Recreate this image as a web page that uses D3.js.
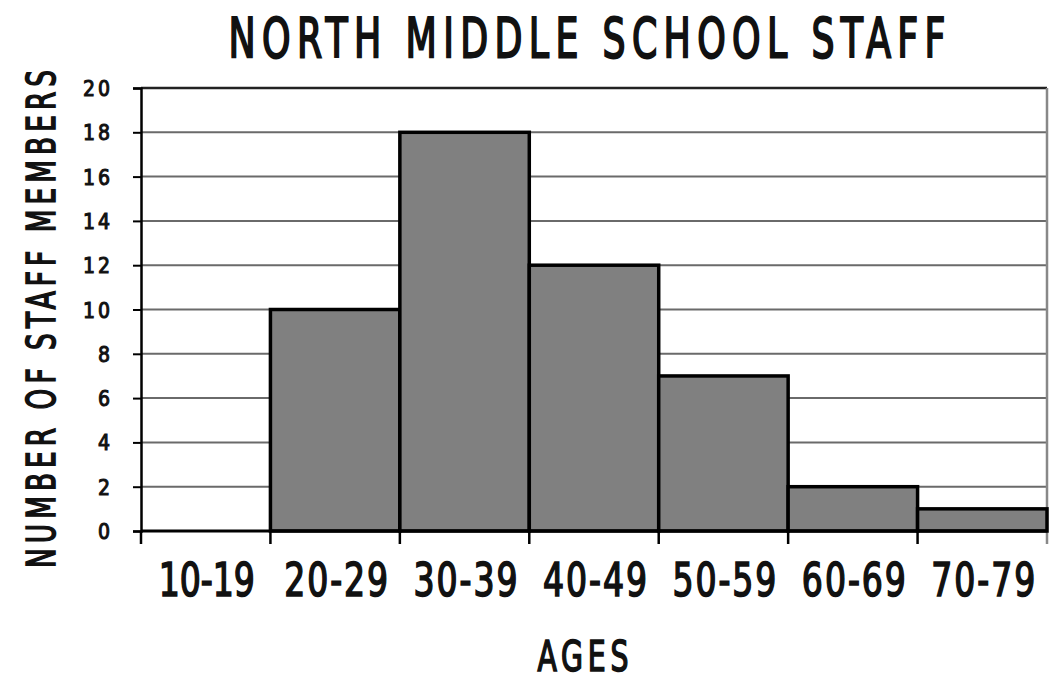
<!DOCTYPE html>
<html><head><meta charset="utf-8">
<script src="https://cdn.jsdelivr.net/npm/d3@7"></script>
<style>body{margin:0;background:#fff}svg{display:block}</style>
</head><body>
<svg id="c" width="1062" height="680"></svg>
<script>
const categories = ["10-19","20-29","30-39","40-49","50-59","60-69","70-79"];
const staffCounts = [0,10,18,12,7,2,1];
const yTicks = [0,2,4,6,8,10,12,14,16,18,20];
const yTickLabels = ["0","2","4","6","8","10","12","14","16","18","20"];
const titleText = "NORTH MIDDLE SCHOOL STAFF";
const xTitle = "AGES";
const yTitle = "NUMBER OF STAFF MEMBERS";

const svg = d3.select("#c");
const font = "'DejaVu Sans Condensed', 'DejaVu Sans', sans-serif";
const m = {left:141, right:1047, top:88, bottom:531};
const x = d3.scaleBand().domain(categories).range([m.left, m.right]).padding(0);
const y = d3.scaleLinear().domain([0,20]).range([m.bottom, m.top]);

// draw a text centered at (cx, cy) with horizontal compression s and spread to target width
function fitLabel(parent, str, cx, cy, rot, size, target, s, sw) {
  const g = parent.append("g");
  const t = g.append("text").attr("text-anchor","middle").attr("font-family",font)
    .attr("font-size",size).attr("fill","#111").attr("stroke","#111").attr("stroke-width",sw)
    .text(str);
  const w = t.node().getComputedTextLength();
  const n = str.length;
  const L = Math.max(0, (target / s - w) / (n - 1));
  t.attr("letter-spacing", L + "px").attr("x", L / 2);
  g.attr("transform", `translate(${cx},${cy}) rotate(${rot}) scale(${s},1)`);
  return g;
}

// gridlines
svg.append("g").selectAll("line").data(yTicks.filter(d=>d>0 && d<20)).join("line")
  .attr("x1", m.left).attr("x2", m.right).attr("y1", d=>y(d)).attr("y2", d=>y(d))
  .attr("stroke", "#6a6a6a").attr("stroke-width", 2);
// top line
svg.append("line").attr("x1", m.left).attr("x2", m.right).attr("y1", y(20)).attr("y2", y(20))
  .attr("stroke","#222").attr("stroke-width",2.5);
// right border
svg.append("line").attr("x1", m.right).attr("x2", m.right).attr("y1", y(20)).attr("y2", m.bottom+13)
  .attr("stroke","#888").attr("stroke-width",2.5);

// bars
svg.append("g").selectAll("rect").data(categories.map((c,i)=>({c, v:staffCounts[i]})).filter(d=>d.v>0)).join("rect")
  .attr("x", d=>x(d.c)).attr("width", x.bandwidth())
  .attr("y", d=>y(d.v)).attr("height", d=>y(0)-y(d.v))
  .attr("fill","#808080").attr("stroke","#000").attr("stroke-width",3.5);

// y axis
const yAxis = d3.axisLeft(y).tickValues(yTicks).tickFormat((d,i)=>yTickLabels[i]).tickSize(8).tickPadding(20);
const ya = svg.append("g").attr("transform",`translate(${m.left},0)`).call(yAxis);
ya.select(".domain").attr("stroke","#000").attr("stroke-width",2.5);
ya.selectAll(".tick line").attr("stroke","#000").attr("stroke-width",2);
ya.selectAll(".tick text").attr("font-family",font).attr("font-size",21)
  .attr("fill","#111").attr("letter-spacing","3px").attr("dy","0.36em")
  .attr("stroke","#111").attr("stroke-width",1);

// x axis
const boundaries = d3.range(categories.length+1);
svg.append("line").attr("x1", m.left).attr("x2", m.right).attr("y1", m.bottom).attr("y2", m.bottom)
  .attr("stroke","#000").attr("stroke-width",3);
svg.append("g").selectAll("line").data(boundaries.slice(0,-1)).join("line")
  .attr("x1", i=>m.left + i*x.step()).attr("x2", i=>m.left + i*x.step())
  .attr("y1", m.bottom).attr("y2", m.bottom+13).attr("stroke","#000").attr("stroke-width",2.5);
const xl = svg.append("g");
categories.forEach(c => {
  fitLabel(xl, c, x(c)+x.bandwidth()/2+1, 596, 0, 46, c==="10-19" ? 90 : 104, 0.8, 1.6);
});

// titles
fitLabel(svg, titleText, 587, 57, 0, 56, 717, 0.72, 2);
fitLabel(svg, xTitle, 583, 671, 0, 42, 91, 0.75, 1.6);
fitLabel(svg, yTitle, 55, 319, -90, 39, 498, 0.75, 1.6);
</script>
</body></html>
